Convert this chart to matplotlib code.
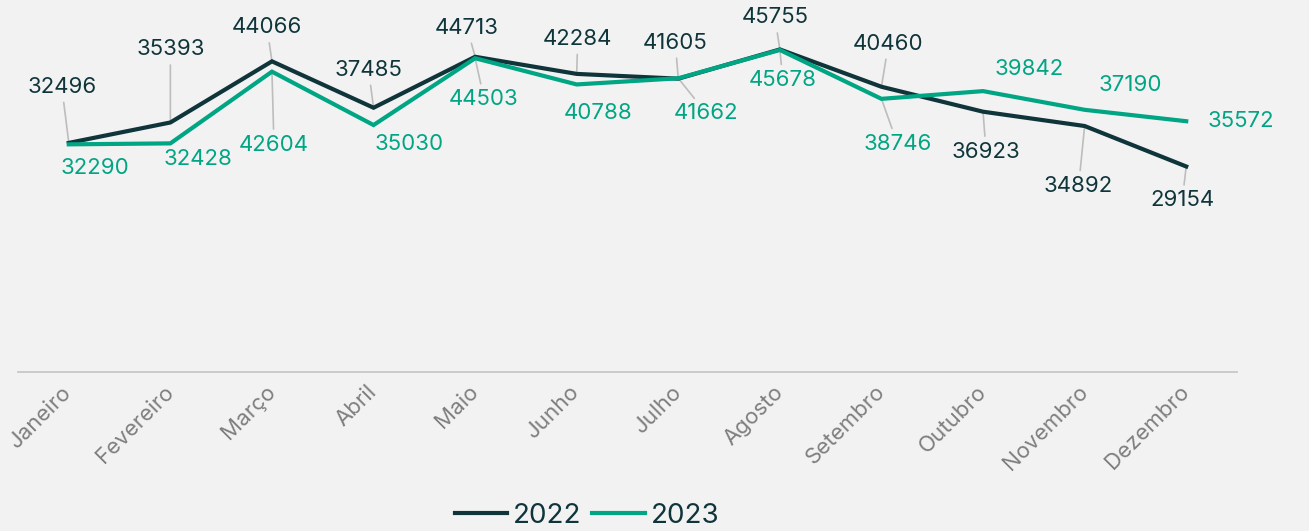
import matplotlib.pyplot as plt

months = ["Janeiro", "Fevereiro", "Março", "Abril", "Maio", "Junho",
          "Julho", "Agosto", "Setembro", "Outubro", "Novembro", "Dezembro"]
v2022 = [32496, 35393, 44066, 37485, 44713, 42284, 41605, 45755, 40460, 36923, 34892, 29154]
v2023 = [32290, 32428, 42604, 35030, 44503, 40788, 41662, 45678, 38746, 39842, 37190, 35572]

# label offsets in pixels (dx, dy, leader line?)
off2022 = [(-7, 56, True), (0, 73, True), (-5, 34, True), (-5, 38, True), (-8, 29, True),
           (1, 35, True), (-3, 36, True), (-5, 32, True), (7, 43, True),
           (3, -40, True), (-6, -60, True), (-4, -34, True)]
off2023 = [(26, -24, False), (28, -16, False), (2, -73, True), (36, -19, False),
           (9, -41, True), (21, -29, False), (28, -35, True), (3, -30, True),
           (16, -45, True), (46, 22, False), (46, 25, False), (55, 0, False)]

c22 = "#0f353b"
c23 = "#00a583"
bg = "#f2f2f2"

plt.rcParams['font.family'] = ['Inter', 'DejaVu Sans']

fig = plt.figure(figsize=(13.09, 5.31), dpi=100, facecolor=bg)
ax = fig.add_axes([18 / 1309, 159 / 531, 1219 / 1309, 372 / 531])
ax.set_facecolor(bg)

x = list(range(len(months)))
l1, = ax.plot(x, v2022, color=c22, lw=3, solid_joinstyle='miter', label="2022", zorder=3)
l2, = ax.plot(x, v2023, color=c23, lw=3, solid_joinstyle='miter', label="2023", zorder=3)

for vals, offs, col in [(v2022, off2022, c22), (v2023, off2023, c23)]:
    for i, (v, (dx, dy, lead)) in enumerate(zip(vals, offs)):
        ap = dict(arrowstyle='-', color='#bdbdbd', lw=1.2, shrinkA=2, shrinkB=1) if lead else None
        ax.annotate(str(v), (i, v), xytext=(dx, dy), textcoords='offset pixels',
                    ha='center', va='center', fontsize=16, color=col,
                    arrowprops=ap, zorder=2)

ax.set_xlim(-0.5, 11.5)
ax.set_ylim(0, 52766)
ax.set_yticks([])
ax.set_xticks(x)
ax.set_xticklabels(months, rotation=45, ha='right', va='center',
                   rotation_mode='anchor', fontsize=16, color='#7f7f7f')
ax.tick_params(axis='x', length=0, pad=12)
for s in ['top', 'left', 'right']:
    ax.spines[s].set_visible(False)
ax.spines['bottom'].set_color('#c4c4c4')
ax.spines['bottom'].set_linewidth(1.2)

fig.legend(handles=[l1, l2], loc='center', bbox_to_anchor=(587 / 1309, 15 / 531),
           ncol=2, frameon=False, fontsize=20, labelcolor=c22,
           handlelength=1.9, handletextpad=0.2, columnspacing=0.4)

fig.savefig("out.png", dpi=100, facecolor=bg)
